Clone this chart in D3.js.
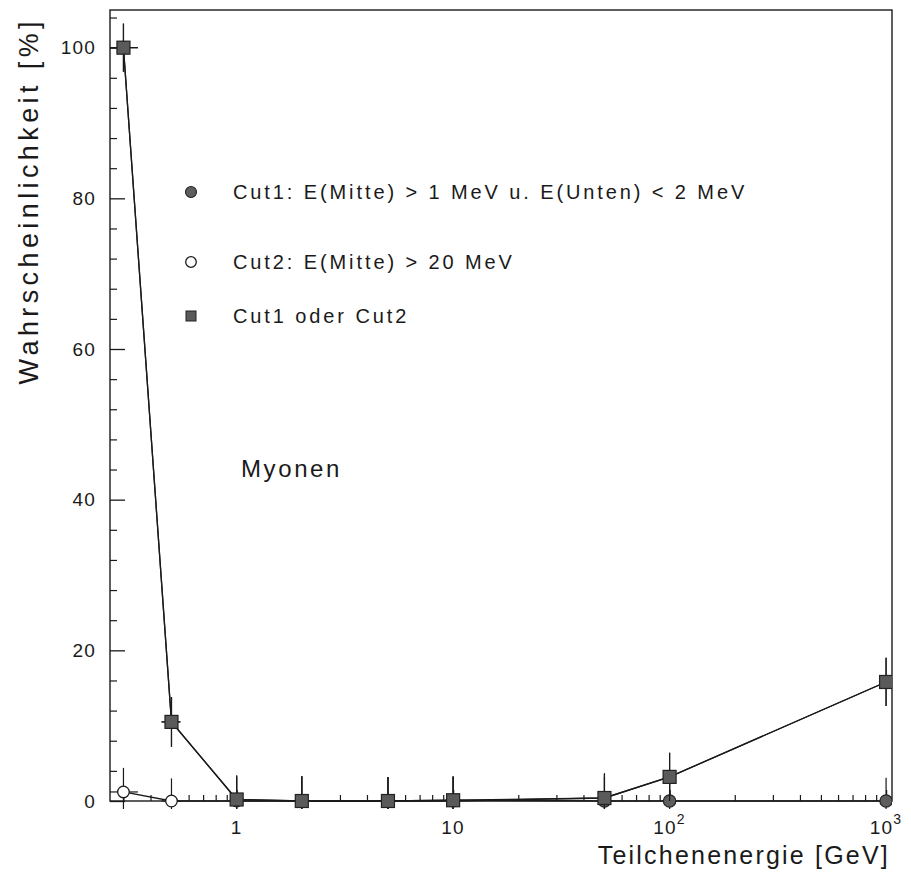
<!DOCTYPE html>
<html>
<head>
<meta charset="utf-8">
<script src="https://cdn.jsdelivr.net/npm/d3@7/dist/d3.min.js"></script>
<style>
  html, body { margin: 0; padding: 0; background: #fff; }
  svg { display: block; }
  text { font-family: "Liberation Sans", Arial, sans-serif; fill: #1a1a1a; }
</style>
</head>
<body>
<svg id="chart" width="911" height="882"></svg>
<script>
// Particle energies in GeV
const energies = [0.3, 0.5, 1, 2, 5, 10, 50, 100, 1000];
const energyErr = [0.05, 0.05, 0, 0, 0, 0, 0, 0, 0];

// Probabilities in percent for each selection
const cut1 = [100, 10.5, 0.2, 0, 0, 0.1, 0, 0, 0];
const cut1Err = [3.2, 3.3, 3.2, 3.3, 3.2, 3.2, 3.2, 3.2, 3.1];
const cut2 = [1.2, 0, 0, 0, 0, 0, 0.4, 3.2, 15.8];
const cut2Err = [3.2, 3.0, 3.2, 3.3, 3.2, 3.2, 3.2, 3.2, 3.2];
const cutEither = [100, 10.5, 0.2, 0, 0, 0.1, 0.4, 3.2, 15.8];
const cutEitherErr = [3.2, 3.3, 3.2, 3.3, 3.2, 3.2, 3.3, 3.2, 3.2];

// Axis ticks and labels
const yMajorTicks = [0, 20, 40, 60, 80, 100];
const yTickLabels = ["0", "20", "40", "60", "80", "100"];
const xMajorTicks = [1, 10, 100, 1000];
const xTickBase = ["1", "10", "10", "10"];
const xTickExp = ["", "", "2", "3"];

const legendLabels = [
  "Cut1: E(Mitte) > 1 MeV u. E(Unten) < 2 MeV",
  "Cut2: E(Mitte) > 20 MeV",
  "Cut1 oder Cut2"
];

const svg = d3.select("#chart");
const L = 110, R = 892, T = 10, B = 801;

const x = d3.scaleLog().domain([0.26, 1065]).range([L, R]);
const y = d3.scaleLinear().domain([0, 105]).range([B, T]);

const ink = "#1a1a1a";

// Frame
svg.append("rect")
  .attr("x", L).attr("y", T).attr("width", R - L).attr("height", B - T)
  .attr("fill", "none").attr("stroke", ink).attr("stroke-width", 1.4);

// Y axis: major and minor ticks pointing inwards
const yMinor = d3.range(0, 105, 4).filter(v => v % 20 !== 0);
svg.append("g").attr("transform", `translate(${L},0)`)
  .call(d3.axisLeft(y).tickValues(yMinor).tickSize(-7).tickFormat(""))
  .call(g => g.select(".domain").remove())
  .call(g => g.selectAll("line").attr("stroke", ink).attr("stroke-width", 1.2));

svg.append("g").attr("transform", `translate(${L},0)`)
  .call(d3.axisLeft(y).tickValues(yMajorTicks).tickSize(-15).tickPadding(14)
    .tickFormat((d, i) => yTickLabels[i]))
  .call(g => g.select(".domain").remove())
  .call(g => g.selectAll("line").attr("stroke", ink).attr("stroke-width", 1.3))
  .call(g => g.selectAll("text")
    .attr("font-size", 19).attr("letter-spacing", 1.2)
    .attr("font-family", "Liberation Sans, Arial, sans-serif")
    .attr("fill", ink));

// X axis: minor ticks at 2..9 of each decade, majors at decades
const xMinor = x.ticks(40).filter(v => {
  const m = v / Math.pow(10, Math.floor(Math.log10(v) + 1e-9));
  return Math.abs(m - 1) > 1e-6;
});
svg.append("g").attr("transform", `translate(0,${B})`)
  .call(d3.axisBottom(x).tickValues(xMinor).tickSize(-6).tickFormat(""))
  .call(g => g.select(".domain").remove())
  .call(g => g.selectAll("line").attr("stroke", ink).attr("stroke-width", 1.2));

svg.append("g").attr("transform", `translate(0,${B})`)
  .call(d3.axisBottom(x).tickValues(xMajorTicks).tickSize(-11).tickFormat(""))
  .call(g => g.select(".domain").remove())
  .call(g => g.selectAll("line").attr("stroke", ink).attr("stroke-width", 1.3));

const xl = svg.append("g").selectAll("text").data(xMajorTicks).join("text")
  .attr("x", d => x(d)).attr("y", 834)
  .attr("text-anchor", "middle").attr("font-size", 19).attr("letter-spacing", 1.2);
xl.append("tspan").text((d, i) => xTickBase[i]);
xl.append("tspan").attr("dy", -10).attr("font-size", 14)
  .text((d, i) => xTickExp[i]);

// Axis titles
svg.append("text")
  .attr("x", 890).attr("y", 864).attr("text-anchor", "end")
  .attr("font-size", 25).attr("letter-spacing", 2.2)
  .text("Teilchenenergie [GeV]");

svg.append("text")
  .attr("transform", "translate(38,17) rotate(-90)")
  .attr("text-anchor", "end")
  .attr("font-size", 27).attr("letter-spacing", 4.4)
  .text("Wahrscheinlichkeit [%]");

// Plot region clip for error bars and lines
svg.append("clipPath").attr("id", "plot")
  .append("rect").attr("x", L).attr("y", T).attr("width", R - L).attr("height", B - T + 8);

const plot = svg.append("g").attr("clip-path", "url(#plot)");

function series(vals, errs) {
  return energies.map((e, i) => ({ e, ex: energyErr[i], v: vals[i], ev: errs[i] }));
}
const sCut2 = series(cut2, cut2Err);
const sCut1 = series(cut1, cut1Err);
const sEither = series(cutEither, cutEitherErr);

const line = d3.line().x(d => x(d.e)).y(d => y(d.v));

function drawErrors(data) {
  const g = plot.append("g").attr("stroke", ink).attr("stroke-width", 1.2);
  g.selectAll(".ev").data(data).join("line")
    .attr("x1", d => x(d.e)).attr("x2", d => x(d.e))
    .attr("y1", d => y(d.v - d.ev)).attr("y2", d => y(d.v + d.ev));
  g.selectAll(".ex").data(data.filter(d => d.ex > 0)).join("line")
    .attr("x1", d => x(d.e - d.ex)).attr("x2", d => x(d.e + d.ex))
    .attr("y1", d => y(d.v)).attr("y2", d => y(d.v));
}

// Cut2: open circles
plot.append("path").datum(sCut2).attr("d", line)
  .attr("fill", "none").attr("stroke", ink).attr("stroke-width", 1.3);
drawErrors(sCut2);
plot.append("g").selectAll("circle").data(sCut2).join("circle")
  .attr("cx", d => x(d.e)).attr("cy", d => y(d.v)).attr("r", 5.8)
  .attr("fill", "#fff").attr("stroke", ink).attr("stroke-width", 1.3);

// Cut1: filled circles
plot.append("path").datum(sCut1).attr("d", line)
  .attr("fill", "none").attr("stroke", ink).attr("stroke-width", 1.3);
drawErrors(sCut1);
plot.append("g").selectAll("circle").data(sCut1).join("circle")
  .attr("cx", d => x(d.e)).attr("cy", d => y(d.v)).attr("r", 6.2)
  .attr("fill", "#5e5e5e").attr("stroke", "#222").attr("stroke-width", 1.2);

// Cut1 oder Cut2: filled squares
plot.append("path").datum(sEither).attr("d", line)
  .attr("fill", "none").attr("stroke", ink).attr("stroke-width", 1.3);
drawErrors(sEither);
const sq = 13;
plot.append("g").selectAll("rect").data(sEither).join("rect")
  .attr("x", d => x(d.e) - sq / 2).attr("y", d => y(d.v) - sq / 2)
  .attr("width", sq).attr("height", sq)
  .attr("fill", "#5a5a5a").attr("stroke", "#222").attr("stroke-width", 1.2);

// Legend
const legendY = [192, 262, 316];
const lx = 191, tx = 233;
svg.append("circle").attr("cx", lx).attr("cy", legendY[0]).attr("r", 5.5)
  .attr("fill", "#5e5e5e").attr("stroke", "#222").attr("stroke-width", 1.1);
svg.append("circle").attr("cx", lx).attr("cy", legendY[1]).attr("r", 5.3)
  .attr("fill", "#fff").attr("stroke", ink).attr("stroke-width", 1.3);
svg.append("rect").attr("x", lx - 5).attr("y", legendY[2] - 5).attr("width", 10).attr("height", 10)
  .attr("fill", "#5a5a5a").attr("stroke", "#222").attr("stroke-width", 1);

svg.append("g").selectAll("text").data(legendLabels).join("text")
  .attr("x", tx).attr("y", (d, i) => legendY[i] + 7)
  .attr("font-size", 20).attr("letter-spacing", 2.9)
  .text(d => d);

// Particle type annotation
svg.append("text")
  .attr("x", 241).attr("y", 477)
  .attr("font-size", 24).attr("letter-spacing", 2.6)
  .text("Myonen");
</script>
</body>
</html>
